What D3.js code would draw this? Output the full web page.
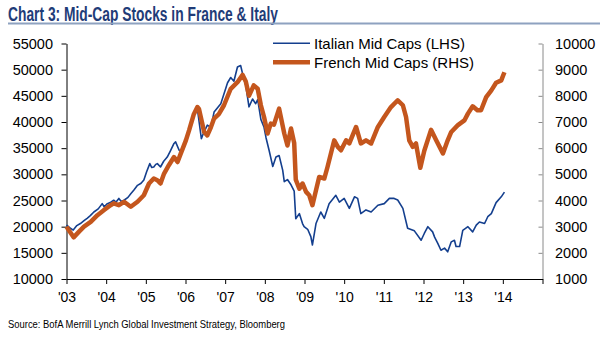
<!DOCTYPE html>
<html>
<head>
<meta charset="utf-8">
<script src="https://cdn.jsdelivr.net/npm/d3@7/dist/d3.min.js"></script>
<style>
  html, body { margin: 0; padding: 0; background: #fff; }
  svg { display: block; }
  .axis text { font-family: Arial, "Liberation Sans", sans-serif; fill: #000; }
</style>
</head>
<body>
<svg id="chart" width="600" height="337"></svg>
<script>
// Italian mid caps, index level (left axis): [decimal year, value]
const italyDates = [2003.00,2003.08,2003.17,2003.26,2003.35,2003.45,2003.52,2003.60,2003.69,2003.80,2003.90,2003.95,2004.03,2004.10,2004.19,2004.25,2004.32,2004.38,2004.45,2004.55,2004.62,2004.70,2004.79,2004.88,2004.95,2005.02,2005.10,2005.15,2005.20,2005.25,2005.29,2005.37,2005.45,2005.54,2005.62,2005.71,2005.75,2005.84,2005.90,2006.00,2006.08,2006.20,2006.30,2006.40,2006.45,2006.55,2006.64,2006.72,2006.89,2007.06,2007.14,2007.22,2007.31,2007.39,2007.44,2007.52,2007.60,2007.69,2007.77,2007.82,2007.90,2007.98,2008.03,2008.11,2008.20,2008.28,2008.36,2008.45,2008.49,2008.57,2008.66,2008.74,2008.78,2008.87,2008.95,2008.99,2009.08,2009.16,2009.20,2009.29,2009.41,2009.50,2009.62,2009.79,2009.88,2010.00,2010.13,2010.26,2010.34,2010.42,2010.55,2010.68,2010.85,2011.01,2011.14,2011.26,2011.35,2011.48,2011.60,2011.77,2011.94,2012.02,2012.11,2012.23,2012.28,2012.36,2012.44,2012.53,2012.61,2012.70,2012.78,2012.82,2012.91,2012.99,2013.12,2013.24,2013.33,2013.41,2013.54,2013.62,2013.71,2013.83,2013.96,2014.04];
const italyValues = [20300,19800,19350,20200,20600,21200,21600,22100,22800,23400,24400,23800,24400,24600,25050,24700,25400,24800,25050,25600,26300,27000,27900,28300,28900,30500,32050,31300,31400,31900,32050,31400,32500,33300,34500,35900,36200,34600,34300,36500,38400,41500,42500,36800,37800,39400,39000,41900,43500,47500,48500,47800,50500,50800,49200,47000,42900,44400,43500,44300,40500,39000,37000,34500,31500,33300,33600,30800,28600,29000,28000,26800,21500,22500,20600,20000,19500,18100,16500,20600,22800,21600,24400,26000,24700,25400,23500,25700,25400,22500,23200,22800,24100,24400,25400,25400,25100,23500,19700,19200,17400,18700,20000,19000,18000,16800,15500,15900,15200,17100,17400,16200,16200,19300,20000,19000,20300,20900,20600,21900,22500,24600,25700,26600];

// French mid caps, index level (right axis): [decimal year, value]
const franceDates = [2003.00,2003.09,2003.18,2003.31,2003.44,2003.61,2003.78,2003.94,2004.11,2004.19,2004.32,2004.45,2004.62,2004.79,2004.95,2005.08,2005.20,2005.29,2005.37,2005.46,2005.58,2005.71,2005.80,2005.88,2006.01,2006.09,2006.21,2006.30,2006.34,2006.47,2006.55,2006.64,2006.72,2006.84,2006.97,2007.14,2007.31,2007.44,2007.52,2007.60,2007.72,2007.82,2007.90,2007.98,2008.07,2008.15,2008.23,2008.36,2008.49,2008.57,2008.66,2008.74,2008.78,2008.87,2008.95,2009.04,2009.12,2009.20,2009.29,2009.37,2009.50,2009.58,2009.75,2009.84,2009.92,2010.05,2010.13,2010.30,2010.42,2010.55,2010.68,2010.85,2011.01,2011.18,2011.35,2011.48,2011.56,2011.64,2011.73,2011.81,2011.92,2012.02,2012.19,2012.32,2012.49,2012.61,2012.70,2012.86,2013.03,2013.12,2013.24,2013.36,2013.45,2013.58,2013.71,2013.83,2013.96,2014.04];
const franceValues = [3000,2800,2590,2800,3000,3180,3440,3630,3820,3890,3820,3950,3760,3950,4200,4650,4840,4775,4650,5030,5350,5660,5470,5790,6300,6680,7300,7570,7500,6620,6490,6800,7130,7300,7640,8270,8520,8800,8550,8000,8400,8270,7640,7190,6560,6940,6900,7510,6560,6100,6750,6200,4800,4450,4650,4330,4200,3820,4390,4900,4840,5280,6300,6050,5920,6300,6180,6810,6180,6300,6180,6810,7190,7570,7830,7640,7190,6300,6050,6180,5250,5900,6700,6300,5800,6300,6620,6870,7060,7320,7600,7450,7450,7950,8210,8500,8590,8900];

// Axis ticks
const yearTicks = d3.range(2003, 2016);
const leftTicks = d3.range(10000, 55001, 5000);
const rightTicks = d3.range(1000, 10001, 1000);

const seriesNames = ["Italian Mid Caps (LHS)", "French Mid Caps (RHS)"];
const titleText = "Chart 3: Mid-Cap Stocks in France & Italy";
const sourceText = "Source: BofA Merrill Lynch Global Investment Strategy, Bloomberg";

const BLUE = "#143f8e";
const ORANGE = "#c4561d";

const svg = d3.select("#chart");
const plot = { left: 66.5, right: 542.5, top: 43.5, bottom: 279 };

const x = d3.scaleLinear().domain([2003, 2015]).range([plot.left, plot.right]);
const yL = d3.scaleLinear().domain([10000, 55000]).range([plot.bottom, plot.top]);
const yR = d3.scaleLinear().domain([1000, 10000]).range([plot.bottom, plot.top]);

// Title and rule beneath it
svg.append("text")
  .attr("x", 8).attr("y", 20.5)
  .attr("font-family", "'Liberation Sans Narrow', 'Arial Narrow', 'Liberation Sans', Arial, sans-serif")
  .attr("font-weight", "bold")
  .attr("font-size", 19.5)
  .attr("fill", "#1f3c78")
  .attr("textLength", 270)
  .attr("lengthAdjust", "spacingAndGlyphs")
  .text(titleText);

svg.append("line")
  .attr("x1", 8).attr("x2", 600)
  .attr("y1", 23.5).attr("y2", 23.5)
  .attr("stroke", "#8ea2c0").attr("stroke-width", 2);

// Left axis
const gL = svg.append("g").attr("class", "axis")
  .attr("transform", `translate(${plot.left},0)`)
  .call(d3.axisLeft(yL).tickValues(leftTicks).tickSizeInner(5).tickSizeOuter(0)
    .tickPadding(8.5).tickFormat(d3.format("d")));
gL.selectAll("text").attr("font-size", 14.5);
gL.selectAll("line, path").attr("stroke", "#000");

// Right axis
const gR = svg.append("g").attr("class", "axis")
  .attr("transform", `translate(${plot.right},0)`)
  .call(d3.axisRight(yR).tickValues(rightTicks).tickSizeInner(-4).tickSizeOuter(0)
    .tickPadding(12.5).tickFormat(d3.format("d")));
gR.selectAll("text").attr("font-size", 14.5);
gR.selectAll("line, path").attr("stroke", "#8a8a8a");

// Bottom axis
const gB = svg.append("g").attr("class", "axis")
  .attr("transform", `translate(0,${plot.bottom})`)
  .call(d3.axisBottom(x).tickValues(yearTicks).tickSizeInner(5).tickSizeOuter(0)
    .tickPadding(8.5).tickFormat(d => d < 2015 ? "'" + String(d).slice(2) : ""));
gB.selectAll("text").attr("font-size", 14);
gB.selectAll("line, path").attr("stroke", "#000");

// Series
const italy = italyDates.map((d, i) => [d, italyValues[i]]);
const france = franceDates.map((d, i) => [d, franceValues[i]]);

svg.append("path")
  .datum(italy)
  .attr("fill", "none")
  .attr("stroke", BLUE)
  .attr("stroke-width", 1.6)
  .attr("stroke-linejoin", "round")
  .attr("d", d3.line().x(d => x(d[0])).y(d => yL(d[1])));

svg.append("path")
  .datum(france)
  .attr("fill", "none")
  .attr("stroke", ORANGE)
  .attr("stroke-width", 4.5)
  .attr("stroke-linejoin", "round")
  .attr("d", d3.line().x(d => x(d[0])).y(d => yR(d[1])));

// Legend
const legend = svg.append("g");
const legendItems = [
  { name: seriesNames[0], color: BLUE, width: 1.6, y: 43.3 },
  { name: seriesNames[1], color: ORANGE, width: 4.5, y: 62.3 }
];
legendItems.forEach(it => {
  legend.append("line")
    .attr("x1", 273).attr("x2", 310)
    .attr("y1", it.y).attr("y2", it.y)
    .attr("stroke", it.color).attr("stroke-width", it.width);
  legend.append("text")
    .attr("x", 314).attr("y", it.y + 5.2)
    .attr("font-family", "Arial, 'Liberation Sans', sans-serif")
    .attr("font-size", 15)
    .attr("fill", "#000")
    .text(it.name);
});

// Source note
svg.append("text")
  .attr("x", 8).attr("y", 328)
  .attr("font-family", "'Liberation Sans Narrow', 'Arial Narrow', 'Liberation Sans', Arial, sans-serif")
  .attr("font-size", 10.5)
  .attr("fill", "#000")
  .attr("textLength", 277)
  .attr("lengthAdjust", "spacingAndGlyphs")
  .text(sourceText);
</script>
</body>
</html>
